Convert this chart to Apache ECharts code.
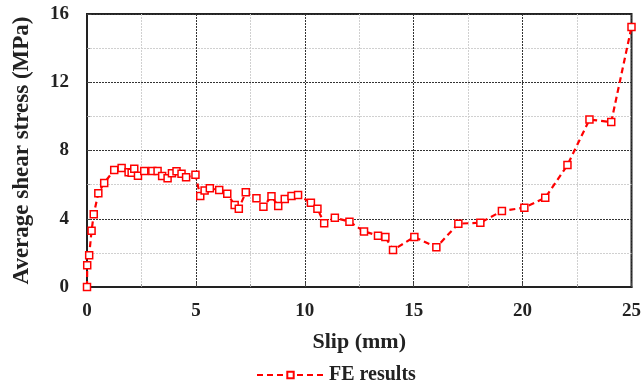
<!DOCTYPE html>
<html>
<head>
<meta charset="utf-8">
<script src="https://cdn.jsdelivr.net/npm/echarts@6/dist/echarts.min.js"></script>
<style>
  html, body { margin: 0; padding: 0; background: #fff; }
  #chart { width: 644px; height: 388px; }
</style>
</head>
<body>
<div id="chart"></div>
<script>
// slip (mm) and average shear stress (MPa)
const slip = [0, 0.01, 0.1, 0.21, 0.31, 0.52, 0.79, 1.25, 1.59, 1.91, 2.05, 2.17, 2.34, 2.63,
  3.0, 3.24, 3.45, 3.7, 3.9, 4.11, 4.34, 4.55, 4.98, 5.2, 5.4, 5.64, 6.07, 6.44, 6.78, 6.97,
  7.29, 7.78, 8.1, 8.47, 8.78, 9.08, 9.39, 9.69, 10.28, 10.58, 10.89, 11.38, 12.05, 12.72,
  13.36, 13.7, 14.05, 15.03, 16.04, 17.05, 18.06, 19.05, 20.08, 21.04, 22.06, 23.07, 24.07, 25.0];
const stress = [0, 1.27, 1.86, 3.3, 4.26, 5.5, 6.1, 6.86, 6.97, 6.72, 6.7, 6.93, 6.52, 6.8,
  6.8, 6.8, 6.5, 6.37, 6.66, 6.78, 6.64, 6.43, 6.58, 5.33, 5.65, 5.79, 5.69, 5.47, 4.8, 4.59,
  5.55, 5.2, 4.71, 5.32, 4.75, 5.16, 5.33, 5.39, 4.94, 4.59, 3.73, 4.06, 3.83, 3.26,
  3.01, 2.93, 2.17, 2.93, 2.33, 3.71, 3.77, 4.45, 4.65, 5.23, 7.15, 9.81, 9.67, 15.24];
const xTicks = [0, 5, 10, 15, 20, 25];
const yTicks = [0, 4, 8, 12, 16];

const font = 'Liberation Serif';
const chart = echarts.init(document.getElementById('chart'));

const option = {
  animation: false,
  grid: {
    left: 87, right: 12, top: 14, bottom: 101,
    show: true, borderColor: '#222', borderWidth: 2
  },
  legend: {
    top: 360,
    left: 251,
    itemWidth: 67,
    itemHeight: 8,
    textStyle: { fontFamily: font, fontWeight: 'bold', fontSize: 20, color: '#222' },
    data: ['FE results']
  },
  xAxis: {
    type: 'value',
    min: xTicks[0], max: xTicks[xTicks.length - 1], interval: 5,
    name: 'Slip (mm)', nameLocation: 'middle', nameGap: 44,
    nameTextStyle: { fontFamily: font, fontWeight: 'bold', fontSize: 22, color: '#222' },
    axisLine: { show: true, lineStyle: { color: '#222', width: 2 } },
    axisTick: { show: true, inside: true, length: 4, lineStyle: { color: '#444' } },
    minorTick: { show: true, splitNumber: 2, length: 3, lineStyle: { color: '#999' } },
    axisLabel: { margin: 15, fontFamily: font, fontWeight: 'bold', fontSize: 19, color: '#222' },
    splitLine: { show: true, lineStyle: { color: '#333', type: [2, 1], width: 1 } },
    minorSplitLine: { show: true, lineStyle: { color: '#d0d0d0', type: [2, 1], width: 1 } }
  },
  yAxis: {
    type: 'value',
    min: yTicks[0], max: yTicks[yTicks.length - 1], interval: 4,
    name: 'Average shear stress (MPa)', nameLocation: 'middle', nameGap: 53,
    nameTextStyle: { fontFamily: font, fontWeight: 'bold', fontSize: 23, color: '#222' },
    axisLine: { show: true, lineStyle: { color: '#222', width: 2 } },
    axisTick: { show: true, inside: true, length: 4, lineStyle: { color: '#444' } },
    minorTick: { show: true, splitNumber: 2, length: 3, lineStyle: { color: '#999' } },
    axisLabel: { margin: 18, fontFamily: font, fontWeight: 'bold', fontSize: 19, color: '#222' },
    splitLine: { show: true, lineStyle: { color: '#333', type: [2, 1], width: 1 } },
    minorSplitLine: { show: true, lineStyle: { color: '#d0d0d0', type: [2, 1], width: 1 } }
  },
  series: [{
    name: 'FE results',
    type: 'line',
    data: slip.map((s, i) => [s, stress[i]]),
    symbol: 'rect',
    symbolSize: 7,
    showAllSymbol: true,
    lineStyle: { color: '#ff0000', width: 2.2, type: [6, 4] },
    itemStyle: { color: '#fff', borderColor: '#ff0000', borderWidth: 1.5 },
    z: 5
  }]
};

chart.setOption(option);
</script>
</body>
</html>
